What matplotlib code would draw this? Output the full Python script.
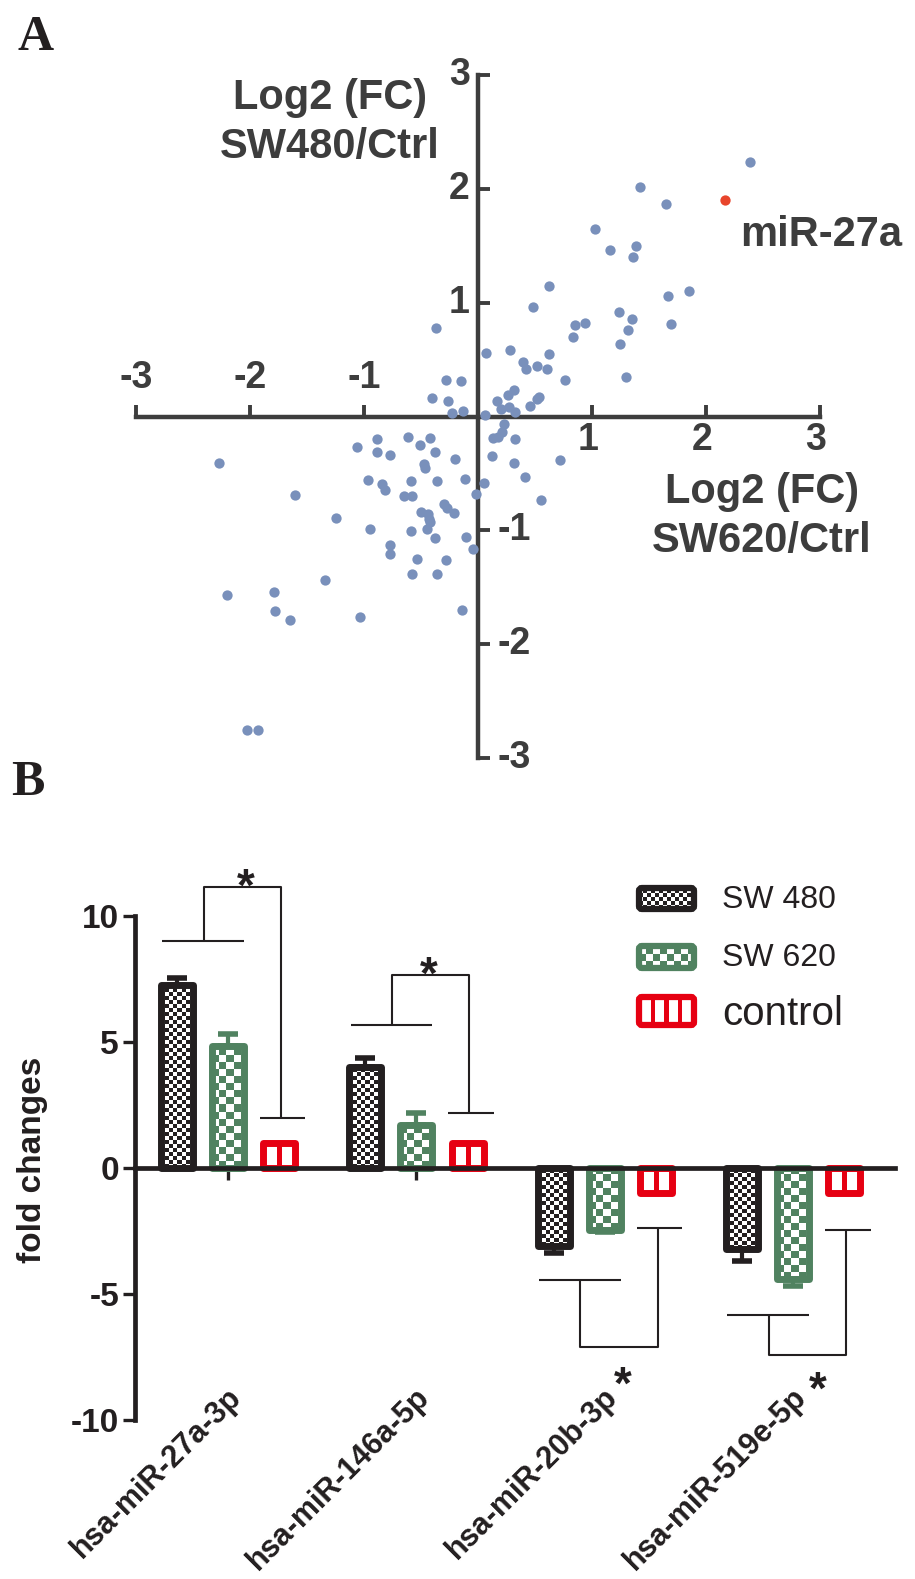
import numpy as np
import matplotlib
matplotlib.use('Agg')
import matplotlib.pyplot as plt
from matplotlib.colors import ListedColormap
from matplotlib.patches import FancyBboxPatch

plt.rcParams['font.family'] = ['Liberation Sans', 'DejaVu Sans']
plt.rcParams['axes.unicode_minus'] = False

# ---------------- Panel A data (log2 fold changes) ----------------
sw620_fc = [2.39, 1.42, 1.65, 1.03, 1.16, 1.39, 1.36, 0.62, 0.48, 1.67, 1.85, 1.24, 1.35, 1.32, 1.69,
            0.94, 0.85, 0.83, 1.25, 1.30, 0.76, 0.07, 0.28, 0.40, 0.42, 0.52, 0.61, 0.62, 0.54, 0.52,
            0.46, 0.32, 0.26, 0.17, 0.20, 0.33, 0.06, 0.27,
            -0.28, -0.15, -0.26, -0.23, -0.13, -0.37, -0.40,
            0.23, 0.21, 0.13, 0.18, 0.33, 0.12, 0.32, 0.41, 0.72, 0.55, 0.05,
            -0.02, -0.11, -0.20, -0.36, -0.38, -0.47, -0.46, -0.42, -0.51, -0.61,
            -0.59, -0.65, -0.58, -0.30, -0.27, -0.21, -0.50, -0.44,
            -0.88, -1.06, -0.88, -0.77, -0.96, -0.84, -0.81,
            -0.43, -0.42, -0.45, -0.59, -0.38, -0.10, -0.04,
            -0.95, -0.77, -0.77, -0.53, -0.28, -0.58, -0.36,
            -1.24, -1.60, -2.27, -1.34, -2.20, -1.79, -1.78, -1.65, -1.03, -0.14,
            -2.02, -1.93]
sw480_fc = [2.24, 2.02, 1.87, 1.65, 1.46, 1.50, 1.40, 1.15, 0.96, 1.06, 1.10, 0.92, 0.86, 0.76, 0.81,
            0.82, 0.80, 0.70, 0.64, 0.35, 0.32, 0.56, 0.58, 0.48, 0.42, 0.44, 0.42, 0.55, 0.17, 0.15,
            0.09, 0.23, 0.19, 0.14, 0.07, 0.04, 0.01, 0.08,
            0.32, 0.31, 0.14, 0.03, 0.05, 0.78, 0.16,
            -0.07, -0.14, -0.19, -0.18, -0.20, -0.35, -0.41, -0.53, -0.38, -0.73, -0.58,
            -0.68, -0.55, -0.37, -0.57, -0.31, -0.42, -0.45, -0.19, -0.25, -0.18,
            -0.57, -0.70, -0.70, -0.77, -0.80, -0.85, -0.84, -0.86,
            -0.20, -0.27, -0.31, -0.34, -0.56, -0.59, -0.65,
            -0.90, -0.93, -0.99, -1.01, -1.07, -1.06, -1.16,
            -0.99, -1.13, -1.21, -1.25, -1.26, -1.38, -1.38,
            -0.89, -0.69, -0.41, -1.44, -1.57, -1.54, -1.71, -1.79, -1.76, -1.70,
            -2.75, -2.75]
highlight_x = [2.17]
highlight_y = [1.90]
highlight_label = 'miR-27a'
scatter_ticks = [-3, -2, -1, 1, 2, 3]

# ---------------- Panel B data (fold changes) ----------------
mirnas = ['hsa-miR-27a-3p', 'hsa-miR-146a-5p', 'hsa-miR-20b-3p', 'hsa-miR-519e-5p']
series_names = ['SW 480', 'SW 620', 'control']
sw480_vals = [7.25, 4.0, -3.1, -3.2]
sw480_err = [0.27, 0.35, 0.28, 0.48]
sw620_vals = [4.85, 1.7, -2.45, -4.4]
sw620_err = [0.45, 0.47, 0.10, 0.28]
control_vals = [1.0, 1.0, -1.0, -1.0]
control_err = [0.0, 0.0, 0.0, 0.0]
bar_ticks = [-10, -5, 0, 5, 10]
pair_level = [9.0, 5.67, -4.44, -5.83]
apex_level = [11.15, 7.66, -7.1, -7.42]
ctrl_level = [2.0, 2.18, -2.38, -2.46]
star_level = [11.75, 8.25, -8.02, -8.21]
star_dx = [0.094, 0.065, 0.093, 0.13]

# ---------------- style ----------------
W, H = 915, 1579
GRAY = '#3d3d3d'
DOT = '#7990bb'
RED_DOT = '#e8452c'
BLACK = '#231f20'
GREEN = '#508260'
RED = '#e60012'
series_colors = [BLACK, GREEN, RED]
series_patterns = ['fine', 'coarse', 'stripes']


def fx(px):
    return px / W


def fy(py):
    return 1 - py / H


fig = plt.figure(figsize=(W / 100, H / 100), dpi=100)


def pattern_array(wpx, hpx, kind):
    jj, ii = np.meshgrid(np.arange(max(wpx, 1)), np.arange(max(hpx, 1)))
    if kind == 'fine':
        return ((ii // 4 + jj // 4) % 2).astype(float)
    if kind == 'coarse':
        return ((ii // 7 + jj // 7) % 2).astype(float)
    n = max(2, int(round(wpx / 13.0)))
    arr = np.zeros_like(ii, dtype=float)
    for k in range(1, n):
        c = k * wpx / n
        arr[np.abs(jj + 0.5 - c) <= 2.0] = 1.0
    return arr


def fill_pattern(ax, patch, x0, x1, y0, y1, kind, color):
    (dx0, dy0), (dx1, dy1) = ax.transData.transform([(x0, y0), (x1, y1)])
    wpx = int(round(abs(dx1 - dx0)))
    hpx = int(round(abs(dy1 - dy0)))
    arr = pattern_array(wpx, hpx, kind)
    im = ax.imshow(arr, cmap=ListedColormap(['white', color]), vmin=0, vmax=1,
                   extent=(x0, x1, y0, y1), origin='lower', interpolation='nearest',
                   aspect='auto', zorder=patch.get_zorder() + 0.1)
    im.set_clip_path(patch)
    return im


# ================= Panel A =================
axA = fig.add_axes([fx(135.7), fy(758), fx(820) - fx(135.7), fy(75) - fy(758)])
axA.set_xlim(-3, 3)
axA.set_ylim(-3, 3)
for s in ['top', 'right']:
    axA.spines[s].set_visible(False)
for s in ['left', 'bottom']:
    axA.spines[s].set_position(('data', 0))
    axA.spines[s].set_color(GRAY)
    axA.spines[s].set_linewidth(3.2)
axA.set_xticks(scatter_ticks)
axA.set_yticks(scatter_ticks)
axA.tick_params(direction='in', length=8.5, width=2.8, color=GRAY,
                labelbottom=False, labelleft=False)
axA.scatter(sw620_fc, sw480_fc, s=55, color=DOT, linewidths=0, zorder=3)
axA.scatter(highlight_x, highlight_y, s=55, color=RED_DOT, linewidths=0, zorder=3)

tick_font = dict(fontsize=27, fontweight='bold', color=GRAY)
for t in scatter_ticks:
    lab = '%d' % t
    if t < 0:
        axA.annotate(lab, (t, 0), xytext=(0, 28), textcoords='offset points',
                     ha='center', va='center', **tick_font)
        axA.annotate(lab, (0, t), xytext=(14, 0), textcoords='offset points',
                     ha='left', va='center', **tick_font)
    else:
        axA.annotate(lab, (t, 0), xytext=(-3, -17), textcoords='offset points',
                     ha='center', va='center', **tick_font)
        axA.annotate(lab, (0, t), xytext=(-6, 0), textcoords='offset points',
                     ha='right', va='center', **tick_font)

title_font = dict(fontsize=30, fontweight='bold', color=GRAY, ha='center', va='baseline')
fig.text(fx(330), fy(109), 'Log2 (FC)', **title_font)
fig.text(fx(330), fy(158), 'SW480/Ctrl', **title_font)
fig.text(fx(762), fy(503), 'Log2 (FC)', **title_font)
fig.text(fx(762), fy(552), 'SW620/Ctrl', **title_font)
axA.annotate(highlight_label, (highlight_x[0], highlight_y[0]), xytext=(11, -33),
             textcoords='offset points', ha='left', va='baseline',
             fontsize=30, fontweight='bold', color=GRAY)

panel_font = dict(fontsize=36, fontweight='bold', family=['Liberation Serif', 'DejaVu Serif'],
                  color=BLACK, va='baseline', ha='left')
fig.text(fx(18), fy(50), 'A', **panel_font)
fig.text(fx(11), fy(795), 'B', **panel_font)

# ================= Panel B =================
axB = fig.add_axes([fx(135), fy(1420), fx(895) - fx(135), fy(916) - fy(1420)])
axB.set_xlim(-0.494, 3.54)
axB.set_ylim(-10, 10)
axB.set_autoscale_on(False)
for s in ['top', 'right']:
    axB.spines[s].set_visible(False)
axB.spines['left'].set_linewidth(3.4)
axB.spines['left'].set_color(BLACK)
axB.spines['bottom'].set_position(('data', 0))
axB.spines['bottom'].set_linewidth(3.4)
axB.spines['bottom'].set_color(BLACK)
group_x = np.arange(len(mirnas))
axB.set_xticks(group_x)
axB.set_yticks(bar_ticks)
axB.tick_params(axis='both', direction='out', length=8.5, width=2.4, color=BLACK)
axB.tick_params(axis='x', labelbottom=False)
axB.tick_params(axis='y', labelsize=24, labelcolor=BLACK, pad=3)
for lab in axB.get_yticklabels():
    lab.set_fontweight('bold')

offsets = [-0.271, 0.0, 0.271]
bw = 0.17
all_vals = [sw480_vals, sw620_vals, control_vals]
all_err = [sw480_err, sw620_err, control_err]
for k in range(3):
    xs = group_x + offsets[k]
    vals = np.array(all_vals[k])
    errs = np.array(all_err[k])
    col = series_colors[k]
    faces = axB.bar(xs, vals, bw, color='white', edgecolor='none', zorder=2)
    for rect in faces:
        x0 = rect.get_x()
        x1 = x0 + rect.get_width()
        y0 = min(rect.get_y(), rect.get_y() + rect.get_height())
        y1 = max(rect.get_y(), rect.get_y() + rect.get_height())
        fill_pattern(axB, rect, x0, x1, y0, y1, series_patterns[k], col)
    lower = np.where(vals < 0, errs, 0)
    upper = np.where(vals >= 0, errs, 0)
    mask = errs > 0
    if mask.any():
        axB.errorbar(xs[mask], vals[mask], yerr=[lower[mask], upper[mask]], fmt='none',
                     ecolor=col, elinewidth=3.0, capsize=7.5, capthick=4.0, zorder=2.15)
    edges = axB.bar(xs, vals, bw, fill=False, edgecolor=col, linewidth=5.0, zorder=2.2)
    for rect in edges:
        rect.set_joinstyle('round')

# significance brackets
br = dict(color=BLACK, lw=1.5, clip_on=False, zorder=2.3, solid_capstyle='butt')
for i in range(len(mirnas)):
    g = group_x[i]
    mid = g - 0.13
    vx = g + 0.28
    axB.plot([g - 0.35, g + 0.085], [pair_level[i]] * 2, **br)
    axB.plot([mid, mid, vx, vx], [pair_level[i], apex_level[i], apex_level[i], ctrl_level[i]], **br)
    axB.plot([g + 0.17, g + 0.41], [ctrl_level[i]] * 2, **br)
    axB.annotate('*', (g + star_dx[i], star_level[i]), xytext=(0, -20.5), textcoords='offset points',
                 ha='center', va='baseline', fontsize=33, fontweight='bold', color=BLACK,
                 annotation_clip=False)

# category labels
for i, name in enumerate(mirnas):
    axB.text(group_x[i] + 0.045, -8.9, name, rotation=45, rotation_mode='anchor',
             ha='right', va='center', fontsize=22, fontweight='bold', color=BLACK)

fig.text(fx(33), fy(1160), 'fold changes', rotation=90, ha='center', va='center',
         fontsize=24, fontweight='bold', color=BLACK)

# legend (manual, pattern-filled swatches)
lax = fig.add_axes([0, 0, 1, 1])
lax.set_xlim(0, W)
lax.set_ylim(0, H)
lax.set_autoscale_on(False)
lax.axis('off')
sw_rows = [(888, 909), (946, 968), (997, 1025)]
label_y = [900, 958, 1025]
label_size = [23, 23, 29]
label_va = ['center', 'center', 'baseline']
for k in range(3):
    top, bot = sw_rows[k]
    y0, y1 = H - bot, H - top
    x0, x1 = 639, 694
    p = FancyBboxPatch((x0, y0), x1 - x0, y1 - y0, boxstyle='round,pad=0,rounding_size=3',
                       facecolor='white', edgecolor='none', zorder=2)
    lax.add_patch(p)
    fill_pattern(lax, p, x0, x1, y0, y1, series_patterns[k], series_colors[k])
    pe = FancyBboxPatch((x0, y0), x1 - x0, y1 - y0, boxstyle='round,pad=0,rounding_size=3',
                        facecolor='none', edgecolor=series_colors[k], linewidth=4.5, zorder=2.2)
    lax.add_patch(pe)
    lax.text(722, H - label_y[k], series_names[k], ha='left', va=label_va[k],
             fontsize=label_size[k], color=BLACK)

fig.savefig('out.png', dpi=100)
